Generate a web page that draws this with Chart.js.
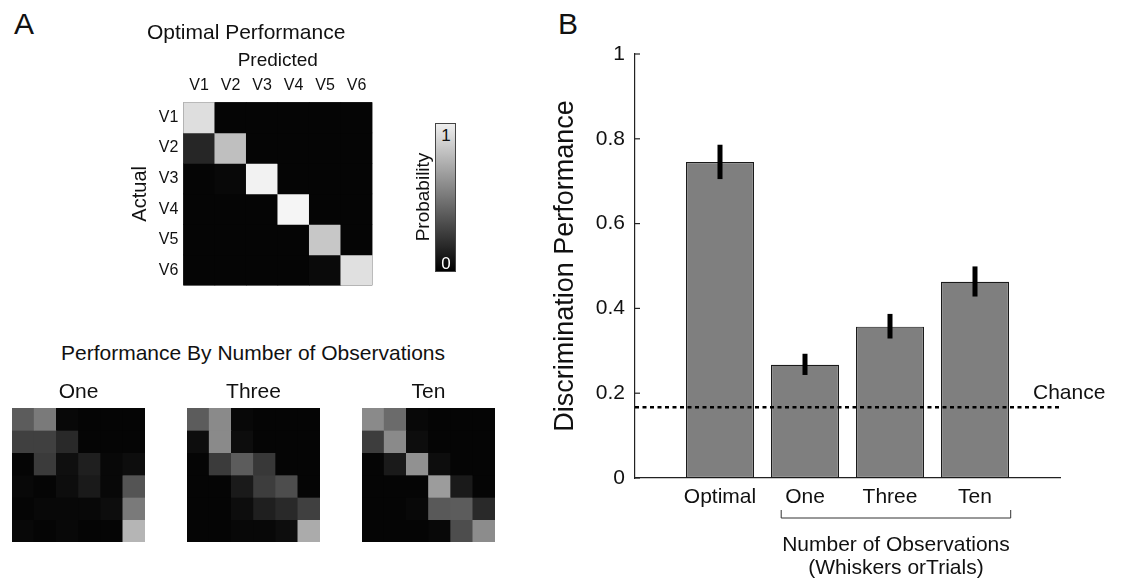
<!DOCTYPE html>
<html>
<head>
<meta charset="utf-8">
<script src="https://cdn.jsdelivr.net/npm/chart.js@4.4.1/dist/chart.umd.min.js"></script>
<style>
body { margin: 0; background: #fff; width: 1123px; height: 581px; position: relative; overflow: hidden;
  font-family: "Liberation Sans", Arial, sans-serif; color: #111; }
canvas { position: absolute; }
.t { position: absolute; white-space: nowrap; transform: translate(-50%, -50%); line-height: 1; }
.rot { transform: translate(-50%, -50%) rotate(-90deg); }
#cbar { position: absolute; left: 435px; top: 123px; width: 21px; height: 149px; box-sizing: border-box;
  border: 1px solid #444; background: linear-gradient(to bottom, #eeeeee, #000000); }
</style>
</head>
<body>
<div class="t" style="left:24px;top:24px;font-size:30px">A</div>
<div class="t" style="left:568px;top:24px;font-size:30px">B</div>

<canvas id="optimal" width="316" height="300" style="left:120px;top:0px"></canvas>
<div id="cbar"></div>
<div class="t" style="left:446px;top:135px;font-size:17px;color:#111">1</div>
<div class="t" style="left:446px;top:263px;font-size:17px;color:#fff">0</div>
<div class="t rot" style="left:422px;top:197px;font-size:19px">Probability</div>

<div class="t" style="left:253px;top:352px;font-size:21px">Performance By Number of Observations</div>
<canvas id="one" width="157" height="181" style="left:0px;top:370px"></canvas>
<canvas id="three" width="157" height="181" style="left:175px;top:370px"></canvas>
<canvas id="ten" width="157" height="181" style="left:350px;top:370px"></canvas>

<canvas id="bars" width="583" height="581" style="left:540px;top:0px"></canvas>

<script>
// panel B data
var conditions = ['Optimal', 'One', 'Three', 'Ten'];
var performance = [0.745, 0.267, 0.357, 0.463];
var errLow = [0.705, 0.243, 0.329, 0.428];
var errHigh = [0.786, 0.293, 0.387, 0.499];
var chance = 0.1667;
var yTicks = [0, 0.2, 0.4, 0.6, 0.8, 1];

// panel A data (confusion matrices, rows = actual, cols = predicted)
var stimuli = ['V1', 'V2', 'V3', 'V4', 'V5', 'V6'];
var optimalMatrix = [
  [0.87, 0.02, 0.02, 0.02, 0.02, 0.02],
  [0.15, 0.75, 0.02, 0.02, 0.02, 0.02],
  [0.02, 0.03, 0.95, 0.02, 0.02, 0.02],
  [0.02, 0.02, 0.02, 0.96, 0.02, 0.02],
  [0.02, 0.02, 0.02, 0.02, 0.78, 0.02],
  [0.02, 0.02, 0.02, 0.02, 0.04, 0.88]
];
var oneMatrix = [
  [0.36, 0.48, 0.03, 0.02, 0.02, 0.02],
  [0.25, 0.25, 0.16, 0.02, 0.02, 0.02],
  [0.02, 0.23, 0.06, 0.12, 0.03, 0.05],
  [0.03, 0.02, 0.05, 0.10, 0.03, 0.33],
  [0.02, 0.03, 0.03, 0.03, 0.05, 0.48],
  [0.03, 0.02, 0.03, 0.02, 0.02, 0.71]
];
var threeMatrix = [
  [0.36, 0.54, 0.03, 0.02, 0.02, 0.02],
  [0.05, 0.54, 0.05, 0.02, 0.02, 0.02],
  [0.02, 0.23, 0.36, 0.22, 0.02, 0.02],
  [0.02, 0.02, 0.10, 0.24, 0.30, 0.02],
  [0.02, 0.02, 0.05, 0.12, 0.16, 0.25],
  [0.02, 0.02, 0.03, 0.03, 0.05, 0.67]
];
var tenMatrix = [
  [0.54, 0.42, 0.03, 0.02, 0.02, 0.02],
  [0.24, 0.54, 0.05, 0.02, 0.02, 0.02],
  [0.02, 0.10, 0.57, 0.05, 0.02, 0.02],
  [0.02, 0.02, 0.02, 0.61, 0.10, 0.02],
  [0.02, 0.02, 0.03, 0.35, 0.36, 0.16],
  [0.02, 0.02, 0.02, 0.03, 0.30, 0.55]
];

var FONT = '"Liberation Sans", Arial, sans-serif';
Chart.defaults.font.family = FONT;
Chart.defaults.color = '#111';

function gray(p) {
  var g = Math.round(p * 255);
  return 'rgb(' + g + ',' + g + ',' + g + ')';
}

// one stacked dataset per matrix row, each cell coloured by its probability
function rows(matrix) {
  return matrix.map(function(row, i) {
    return {
      label: stimuli[i],
      data: row.map(function() { return 1; }),
      backgroundColor: row.map(gray),
      borderWidth: 0,
      barPercentage: 1,
      categoryPercentage: 1
    };
  });
}

var cellBackground = {
  id: 'cellBackground',
  beforeDatasetsDraw: function(chart) {
    var a = chart.chartArea, ctx = chart.ctx;
    ctx.save();
    ctx.fillStyle = '#050505';
    ctx.fillRect(a.left, a.top, a.right - a.left, a.bottom - a.top);
    ctx.restore();
  }
};

new Chart(document.getElementById('optimal'), {
  type: 'bar',
  data: { labels: stimuli, datasets: rows(optimalMatrix) },
  options: {
    responsive: false,
    animation: false,
    layout: { padding: { left: 0, right: 63.7, top: 0, bottom: 8.7 } },
    plugins: {
      legend: { display: false },
      tooltip: { enabled: false },
      title: { display: true, text: 'Optimal Performance', color: '#111',
        font: { size: 21, weight: 'normal' }, padding: { top: 20.4, bottom: 0 } }
    },
    scales: {
      x: {
        position: 'top', stacked: true,
        grid: { display: false, drawTicks: false }, border: { display: false },
        ticks: { font: { size: 16 }, padding: 6.7 },
        title: { display: true, text: 'Predicted', font: { size: 19 }, padding: { top: 4, bottom: 0 } },
        afterFit: function(s) { s.height = 56.7; }
      },
      y: {
        stacked: true, min: 0, max: 6, reverse: true,
        grid: { display: false, drawTicks: false }, border: { display: false },
        afterBuildTicks: function(s) {
          s.ticks = stimuli.map(function(v, i) { return { value: i + 0.5 }; });
        },
        ticks: { font: { size: 16 }, padding: 5, callback: function(v, i) { return stimuli[i]; } },
        title: { display: true, text: 'Actual', font: { size: 20 }, padding: { top: 8, bottom: 0 } },
        afterFit: function(s) { s.width = 63.3; }
      }
    }
  },
  plugins: [cellBackground]
});

function smallMap(id, title, matrix) {
  new Chart(document.getElementById(id), {
    type: 'bar',
    data: { labels: stimuli, datasets: rows(matrix) },
    options: {
      responsive: false,
      animation: false,
      layout: { padding: { left: 12, right: 12, top: 0, bottom: 9 } },
      plugins: {
        legend: { display: false },
        tooltip: { enabled: false },
        title: { display: true, text: title, color: '#111',
          font: { size: 21, weight: 'normal' }, padding: { top: 9.4, bottom: 3.4 } }
      },
      scales: {
        x: { display: false, stacked: true },
        y: { display: false, stacked: true, min: 0, max: 6, reverse: true }
      }
    },
    plugins: [cellBackground]
  });
}
smallMap('one', 'One', oneMatrix);
smallMap('three', 'Three', threeMatrix);
smallMap('ten', 'Ten', tenMatrix);

// error bars, inward ticks, chance label and group bracket
var barExtras = {
  id: 'barExtras',
  afterDraw: function(chart) {
    var ctx = chart.ctx, xs = chart.scales.x, ys = chart.scales.y, a = chart.chartArea;
    var meta = chart.getDatasetMeta(0);
    ctx.save();
    ctx.strokeStyle = '#000';
    ctx.lineWidth = 5;
    meta.data.forEach(function(bar, i) {
      ctx.beginPath();
      ctx.moveTo(bar.x, ys.getPixelForValue(errHigh[i]));
      ctx.lineTo(bar.x, ys.getPixelForValue(errLow[i]));
      ctx.stroke();
    });

    ctx.strokeStyle = '#222';
    ctx.lineWidth = 1.2;
    yTicks.forEach(function(v) {
      var py = ys.getPixelForValue(v);
      ctx.beginPath();
      ctx.moveTo(a.left, py);
      ctx.lineTo(a.left + 5, py);
      ctx.stroke();
    });

    ctx.fillStyle = '#111';
    ctx.font = '21px ' + FONT;
    ctx.textBaseline = 'middle';
    ctx.textAlign = 'left';
    ctx.fillText('Chance', a.right - 27, ys.getPixelForValue(chance) - 14);

    // bracket under One / Three / Ten
    var bx1 = xs.getPixelForValue(1.72), bx2 = xs.getPixelForValue(4.42);
    var by = a.bottom + 40;
    ctx.lineWidth = 1;
    ctx.strokeStyle = '#333';
    ctx.beginPath();
    ctx.moveTo(bx1, by - 8);
    ctx.lineTo(bx1, by);
    ctx.lineTo(bx2, by);
    ctx.lineTo(bx2, by - 8);
    ctx.stroke();

    ctx.textAlign = 'center';
    var cx = (bx1 + bx2) / 2;
    ctx.fillText('Number of Observations', cx, by + 27);
    ctx.fillText('(Whiskers orTrials)', cx, by + 50);
    ctx.restore();
  }
};

new Chart(document.getElementById('bars'), {
  type: 'bar',
  data: {
    datasets: [
      {
        label: 'Discrimination Performance',
        data: performance.map(function(v, i) { return { x: i + 1, y: v }; }),
        backgroundColor: '#7f7f7f',
        borderColor: '#1a1a1a',
        borderWidth: 1.2,
        borderSkipped: false,
        barPercentage: 0.8,
        categoryPercentage: 1,
        order: 1
      },
      {
        type: 'line',
        label: 'Chance',
        data: [{ x: 0, y: chance }, { x: 5, y: chance }],
        borderColor: '#000',
        borderWidth: 2.5,
        borderDash: [4, 3.5],
        pointRadius: 0,
        order: 0
      }
    ]
  },
  options: {
    responsive: false,
    animation: false,
    layout: { padding: { left: 0, right: 63, top: 54, bottom: 0 } },
    plugins: { legend: { display: false }, tooltip: { enabled: false } },
    scales: {
      x: {
        type: 'linear', min: 0, max: 5, offset: false,
        grid: { display: false, drawTicks: false },
        border: { display: true, color: '#222', width: 1.2 },
        afterBuildTicks: function(s) {
          s.ticks = conditions.map(function(c, i) { return { value: i + 1 }; });
        },
        ticks: { font: { size: 21 }, padding: 7, autoSkip: false, maxRotation: 0,
          callback: function(v, i) { return conditions[i]; } },
        afterFit: function(s) { s.height = 103; }
      },
      y: {
        min: 0, max: 1,
        grid: { display: false, drawTicks: false },
        border: { display: true, color: '#222', width: 1.2 },
        afterBuildTicks: function(s) {
          s.ticks = yTicks.map(function(v) { return { value: v }; });
        },
        ticks: { font: { size: 21 }, padding: 10, callback: function(v) { return String(v); } },
        title: { display: true, text: 'Discrimination Performance', font: { size: 27 }, padding: { top: 9, bottom: 0 } },
        afterFit: function(s) { s.width = 95; }
      }
    }
  },
  plugins: [barExtras]
});
</script>
</body>
</html>
